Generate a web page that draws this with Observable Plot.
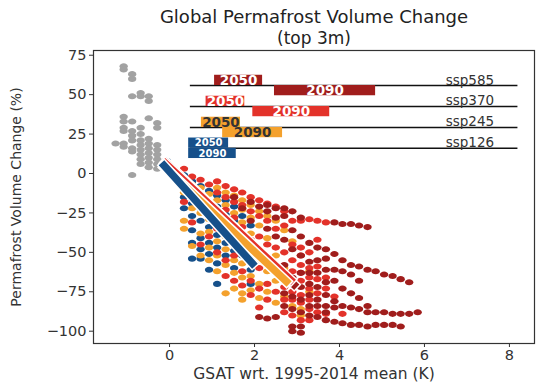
<!DOCTYPE html>
<html><head><meta charset="utf-8">
<script src="https://cdn.jsdelivr.net/npm/d3@7"></script>
<script src="https://cdn.jsdelivr.net/npm/@observablehq/plot@0.6"></script>
<style>html,body{margin:0;padding:0;background:#fff;}</style>
</head><body><div id="chart"></div>
<script>
// ---------- data ----------
const titleLines = ["Global Permafrost Volume Change", "(top 3m)"];
const xLabel = "GSAT wrt. 1995-2014 mean (K)";
const yLabel = "Permafrost Volume Change (%)";
const xTicks = [0, 2, 4, 6, 8];
const yTicks = [-100, -75, -50, -25, 0, 25, 50, 75];
const scenarios = ["ssp585", "ssp370", "ssp245", "ssp126"];
const scenarioColors = ["#a01d1c", "#e3322a", "#f4a12d", "#16508a"];
const yearLabels = ["2050", "2090"];
const rangeLevel = [55.8, 42.5, 29.2, 16.0];
const range2050 = [[1.06, 2.19], [0.86, 1.77], [0.75, 1.67], [0.45, 1.39]];
const range2090 = [[2.47, 4.85], [1.96, 3.77], [1.25, 2.66], [0.45, 1.57]];
const fitStart = [[-0.08, 7], [-0.1, 6.5], [-0.12, 4], [-0.13, 5]];
const fitEnd = [[2.93, -70.5], [2.85, -67.5], [2.75, -68.5], [1.95, -57]];

const histPts = [[-1.08,68],[-1.08,66],[-0.88,63],[-0.88,60],[-0.88,49],[-0.68,51],[-0.68,49],[-0.49,49],[-0.49,46],
[-1.08,36],[-1.08,33],[-1.08,29],[-1.08,27],[-0.88,33],[-0.88,27],[-0.88,24],[-0.88,21],[-0.68,29],[-0.68,25],[-0.49,35],[-0.29,32],[-0.29,29],
[-1.27,19],[-1.08,19],[-1.08,17],[-0.88,16],[-0.88,14],[-0.68,21],[-0.68,18],[-0.68,15],[-0.68,12],[-0.68,9],[-0.68,6],
[-0.49,22],[-0.49,19],[-0.49,16],[-0.49,13],[-0.49,10],[-0.49,7],[-0.49,4],[-0.29,18],[-0.29,15],[-0.29,12],[-0.29,9],[-0.29,6],[-0.29,3],
[-0.88,-1],[-0.1,8],[-0.1,4]];

const ssp126Pts = [[-0.06,8],[0.34,-1],[0.34,-8],[0.34,-15],[0.34,-22],[0.53,-5],[0.53,-11],[0.53,-19],[0.53,-27],[0.53,-36],[0.53,-44],[0.53,-54],
[0.73,-8],[0.73,-14],[0.73,-22],[0.73,-30],[0.73,-41],[0.73,-48],[0.73,-54],[0.93,-11],[0.93,-18],[0.93,-25],[0.93,-34],[0.93,-44],[0.93,-51],[0.93,-61],
[1.12,-14],[1.12,-21],[1.12,-30],[1.12,-39],[1.12,-47],[1.12,-57],[1.12,-70],[1.32,-17],[1.32,-26],[1.32,-35],[1.32,-44],[1.32,-52],
[1.52,-21],[1.52,-30],[1.52,-41],[1.52,-49],[1.52,-60],[1.71,-27],[1.71,-38],[1.71,-52],[1.91,-33],[1.91,-45],[1.91,-61],[1.91,-70],[2.11,-48]];

const ssp245Pts = [[0.34,-3],[0.34,-12],[0.34,-30],[0.34,-35],[0.53,-7],[0.53,-14],[0.53,-22],[0.53,-46],[0.73,-9],[0.73,-17],[0.73,-25],[0.73,-38],[0.73,-52],
[0.93,-13],[0.93,-20],[0.93,-29],[0.93,-37],[0.93,-47],[0.93,-55],[1.12,-9],[1.12,-17],[1.12,-25],[1.12,-34],[1.12,-43],[1.12,-52],[1.12,-62],
[1.32,-12],[1.32,-20],[1.32,-30],[1.32,-40],[1.32,-48],[1.32,-58],[1.32,-76],[1.52,-14],[1.52,-25],[1.52,-34],[1.52,-45],[1.52,-55],[1.52,-63],[1.52,-73],
[1.71,-17],[1.71,-23],[1.71,-31],[1.71,-44],[1.71,-57],[1.71,-66],[1.71,-76],[1.71,-80],[1.91,-20],[1.91,-28],[1.91,-38],[1.91,-50],[1.91,-65],[1.91,-74],
[2.11,-24],[2.11,-33],[2.11,-55],[2.11,-70],[2.11,-79],[2.30,-27],[2.30,-41],[2.30,-62],[2.30,-75],[2.50,-30],[2.50,-52],[2.50,-68],[2.50,-82],
[2.70,-36],[2.70,-60],[2.70,-78],[2.89,-43],[2.89,-70],[2.89,-84],[3.09,-86],[3.09,-90],[3.29,-62],[3.29,-75]];

const ssp370Pts = [[0.34,3],[0.34,-5],[0.34,-18],[0.53,-2],[0.53,-16],[0.53,-31],[0.73,-4],[0.73,-20],[0.73,-45],[0.93,-7],[0.93,-24],[0.93,-40],
[1.12,-5],[1.12,-12],[1.12,-35],[1.12,-50],[1.32,-8],[1.32,-15],[1.32,-23],[1.32,-38],[1.32,-55],[1.32,-65],[1.52,-10],[1.52,-18],[1.52,-28],[1.52,-52],[1.52,-68],
[1.71,-12],[1.71,-20],[1.71,-34],[1.71,-48],[1.71,-62],[1.71,-71],[1.91,-15],[1.91,-24],[1.91,-42],[1.91,-56],[1.91,-68],[1.91,-77],
[2.11,-17],[2.11,-27],[2.11,-40],[2.11,-60],[2.11,-73],[2.11,-85],[2.30,-19],[2.30,-30],[2.30,-45],[2.30,-57],[2.30,-70],[2.30,-80],
[2.50,-21],[2.50,-35],[2.50,-47],[2.50,-62],[2.50,-75],[2.70,-24],[2.70,-33],[2.70,-50],[2.70,-66],[2.70,-72],[2.70,-80],[2.70,-88],
[2.89,-30],[2.89,-45],[2.89,-55],[2.89,-62],[2.89,-68],[2.89,-75],[2.89,-80],[2.89,-90],[3.09,-30],[3.09,-47],[3.09,-52],[3.09,-58],[3.09,-63],[3.09,-68],[3.09,-77],[3.09,-82],[3.09,-93],
[3.29,-29],[3.29,-50],[3.29,-60],[3.29,-66],[3.29,-73],[3.29,-80],[3.29,-86],[3.29,-93],[3.48,-30],[3.48,-42],[3.48,-59],[3.48,-67],[3.48,-76],[3.48,-88],
[3.68,-31],[3.68,-66],[3.68,-73],[3.68,-89],[3.88,-78],[4.07,-89]];

const ssp585Pts = [[1.52,-15],[1.71,-22],[1.91,-18],[1.91,-30],[2.11,-21],[2.11,-91],[2.30,-20],[2.30,-24],[2.30,-35],[2.30,-92],[2.50,-22],[2.50,-28],[2.50,-40],[2.50,-91],
[2.70,-22],[2.70,-27],[2.70,-42],[2.70,-58],[2.70,-76],[2.70,-84],[2.89,-24],[2.89,-36],[2.89,-48],[2.89,-66],[2.89,-78],[2.89,-86],[2.89,-97],[2.89,-100],
[3.09,-28],[3.09,-40],[3.09,-52],[3.09,-63],[3.09,-72],[3.09,-80],[3.09,-88],[3.09,-97],[3.09,-101],[3.29,-44],[3.29,-56],[3.29,-63],[3.29,-70],[3.29,-77],[3.29,-84],[3.29,-90],
[3.48,-47],[3.48,-55],[3.48,-63],[3.48,-72],[3.48,-80],[3.48,-84],[3.48,-91],[3.68,-48],[3.68,-54],[3.68,-61],[3.68,-69],[3.68,-77],[3.68,-84],[3.68,-88],[3.68,-93],
[3.88,-31],[3.88,-51],[3.88,-61],[3.88,-68],[3.88,-81],[3.88,-85],[3.88,-94],[4.07,-32],[4.07,-55],[4.07,-62],[4.07,-73],[4.07,-84],[4.07,-95],
[4.27,-32],[4.27,-58],[4.27,-64],[4.27,-76],[4.27,-85],[4.27,-96],[4.46,-33],[4.46,-59],[4.46,-68],[4.46,-79],[4.46,-86],[4.46,-96],
[4.66,-34],[4.66,-61],[4.66,-84],[4.66,-88],[4.66,-97],[4.85,-62],[4.85,-88],[4.85,-96],[5.05,-64],[5.05,-88],[5.05,-96],[5.25,-65],[5.25,-89],[5.25,-96],
[5.44,-67],[5.44,-89],[5.44,-97],[5.64,-69],[5.64,-89],[5.84,-88]];

// ---------- drawing ----------
const ellipse = {
  draw(ctx, size) {
    const r = Math.sqrt(size / Math.PI), a = r * 1.3, b = r * 0.95, k = 0.5523;
    ctx.moveTo(a, 0);
    ctx.bezierCurveTo(a, k * b, k * a, b, 0, b);
    ctx.bezierCurveTo(-k * a, b, -a, k * b, -a, 0);
    ctx.bezierCurveTo(-a, -k * b, -k * a, -b, 0, -b);
    ctx.bezierCurveTo(k * a, -b, a, -k * b, a, 0);
    ctx.closePath();
  }
};
const dotOpts = (fill) => ({x: d => d[0], y: d => d[1], r: 3.2, symbol: ellipse, fill, stroke: "none"});

const barH = 6.5;
const legendRows = scenarios.map((s, i) => ({
  s, color: scenarioColors[i], level: rangeLevel[i],
  a: range2050[i], b: range2090[i],
  fs: fitStart[i], fe: fitEnd[i]
}));

const marks = [
  Plot.frame({stroke: "#333", strokeWidth: 1.2}),
  Plot.dot(histPts, dotOpts("#a2a2a2")),
  Plot.dot(ssp126Pts, dotOpts(scenarioColors[3])),
  Plot.dot(ssp245Pts, dotOpts(scenarioColors[2])),
  Plot.dot(ssp370Pts, dotOpts(scenarioColors[1])),
  Plot.dot(ssp585Pts, dotOpts(scenarioColors[0])),
  Plot.ruleY(rangeLevel, {x1: 0.49, x2: 8.2, stroke: "#111", strokeWidth: 1.6})
];
legendRows.forEach((r) => {
  const small = r.s === "ssp126";
  const txt = r.s === "ssp245" ? "#333" : "#fff";
  marks.push(Plot.rect([r], {x1: d => d.a[0], x2: d => d.a[1], y1: d => d.level, y2: d => d.level + barH, fill: r.color}));
  marks.push(Plot.rect([r], {x1: d => d.b[0], x2: d => d.b[1], y1: d => d.level - barH, y2: d => d.level, fill: r.color}));
  marks.push(Plot.text([r], {x: d => (d.a[0] + d.a[1]) / 2, y: d => d.level + barH / 2, text: () => yearLabels[0], fill: txt, fontWeight: "bold", fontSize: small ? 10 : 13.5}));
  marks.push(Plot.text([r], {x: d => (d.b[0] + d.b[1]) / 2, y: d => d.level - barH / 2, text: () => yearLabels[1], fill: txt, fontWeight: "bold", fontSize: small ? 10 : 13.5}));
  marks.push(Plot.text([r], {x: 7.64, y: d => d.level, text: d => d.s, textAnchor: "end", lineAnchor: "bottom", dy: -1, fill: "#333", fontSize: 13.5}));
});
legendRows.forEach((r) => {
  const o = {x1: d => d.fs[0], y1: d => d.fs[1], x2: d => d.fe[0], y2: d => d.fe[1], strokeLinecap: "square"};
  marks.push(Plot.link([r], {...o, stroke: "#fff", strokeWidth: 10.5}));
  marks.push(Plot.link([r], {...o, stroke: r.color, strokeWidth: 7.5}));
});
marks.push(
  Plot.axisX({ticks: xTicks, tickSize: 4, tickPadding: 2, label: null, fontSize: 14.5, color: "#333"}),
  Plot.axisY({ticks: yTicks, tickSize: 4, tickPadding: 3, label: null, fontSize: 14.5, color: "#333"}),
  Plot.text([xLabel], {frameAnchor: "bottom", dy: 31, fontSize: 15.5, fill: "#333", lineAnchor: "middle"}),
  Plot.text([yLabel], {frameAnchor: "left", dx: -77, rotate: -90, textAnchor: "middle", lineAnchor: "middle", fontSize: 14, fill: "#333"}),
  Plot.text([titleLines[0]], {frameAnchor: "top", dy: -33, lineAnchor: "middle", fontSize: 18, fill: "#222"}),
  Plot.text([titleLines[1]], {frameAnchor: "top", dy: -12, lineAnchor: "middle", fontSize: 17, fill: "#222"})
);

const chart = Plot.plot({
  width: 536, height: 383,
  marginLeft: 93, marginRight: 2, marginTop: 50, marginBottom: 40,
  style: {fontFamily: "DejaVu Sans, sans-serif", fontSize: "13px", color: "#333", background: "#fff"},
  x: {domain: [-1.79, 8.59]},
  y: {domain: [-107.8, 78]},
  marks
});
document.getElementById("chart").appendChild(chart);
</script></body></html>
